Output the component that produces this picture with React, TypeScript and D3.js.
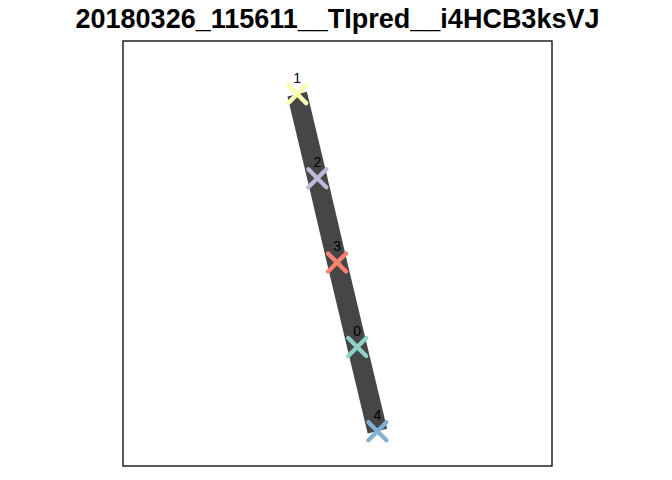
import React from "react";
import * as d3 from "d3";

// spot ids in path order, with their coordinates (data units)
const spotIds = ["1", "2", "3", "0", "4"];
const spotX = [40.6, 45.3, 49.9, 54.6, 59.3];
const spotY = [87.5, 67.7, 47.9, 28.0, 8.2];
const spotColors = ["#FFFFB3", "#BEBADA", "#FB8072", "#8DD3C7", "#80B1D3"];

const title = "20180326_115611__TIpred__i4HCB3ksVJ";

const W = 672;
const H = 480;
const margin = { top: 41, right: 120, bottom: 14, left: 123 };

export default function App() {
  const plotW = W - margin.left - margin.right;
  const plotH = H - margin.top - margin.bottom;

  const x = d3.scaleLinear().domain([0, 100]).range([0, plotW]);
  const y = d3.scaleLinear().domain([0, 100]).range([plotH, 0]);

  const pts = spotIds.map((id, i) => ({ id, x: spotX[i], y: spotY[i], color: spotColors[i] }));

  const line = d3
    .line<{ x: number; y: number }>()
    .x((d) => x(d.x))
    .y((d) => y(d.y));

  const arm = 9;

  return (
    <svg
      width={W}
      height={H}
      style={{ position: "absolute", left: 0, top: 0, background: "#fff" }}
      fontFamily="'Liberation Sans', Arial, Helvetica, sans-serif"
    >
      <text
        x={margin.left + plotW / 2}
        y={28}
        textAnchor="middle"
        fontSize={27}
        fontWeight="bold"
        fill="#000"
      >
        {title}
      </text>
      <g transform={`translate(${margin.left},${margin.top})`}>
        <path d={line(pts) ?? ""} fill="none" stroke="#464646" strokeWidth={20} strokeLinecap="butt" />
        {pts.map((p) => (
          <g key={p.id} transform={`translate(${x(p.x)},${y(p.y)})`}>
            <path
              d={`M${-arm},${-arm}L${arm},${arm}M${-arm},${arm}L${arm},${-arm}`}
              stroke={p.color}
              strokeWidth={4.3}
              strokeLinecap="round"
            />
            <text y={-11} textAnchor="middle" fontSize={14} fill="#000">
              {p.id}
            </text>
          </g>
        ))}
        <rect x={0} y={0} width={plotW} height={plotH} fill="none" stroke="#000" strokeWidth={1.3} />
      </g>
    </svg>
  );
}
